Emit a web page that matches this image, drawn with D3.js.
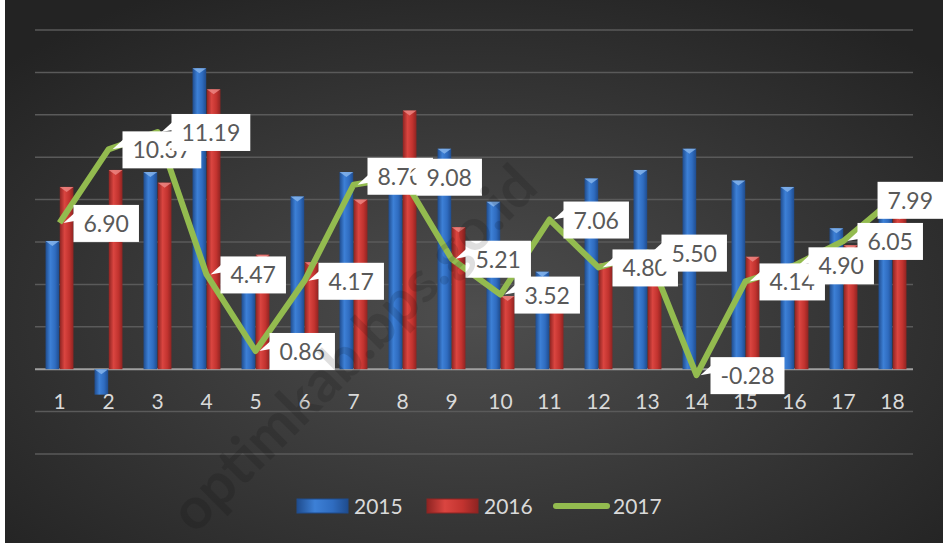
<!DOCTYPE html>
<html>
<head>
<meta charset="utf-8">
<script src="https://cdn.jsdelivr.net/npm/d3@7"></script>
<style>
    body { margin: 0; background: #fff; }
    text { font-family: Lato, "Open Sans", sans-serif; }
</style>
</head>
<body>
<div id="chart"></div>
<script>
'use strict';

// data
var categories = ["1","2","3","4","5","6","7","8","9","10","11","12","13","14","15","16","17","18"];
var seriesNames = ["2015", "2016", "2017"];
var values2015 = [6.05, -1.2, 9.3, 14.2, 4.2, 8.15, 9.3, 9.0, 10.4, 7.9, 4.6, 9.0, 9.4, 10.4, 8.9, 8.6, 6.65, 7.5];
var values2016 = [8.6, 9.4, 8.8, 13.2, 5.4, 5.05, 8.0, 12.2, 6.7, 3.45, 3.3, 5.0, 4.5, 0, 5.3, 4.2, 5.85, 7.3];
var values2017 = [6.90, 10.37, 11.19, 4.47, 0.86, 4.17, 8.70, 9.08, 5.21, 3.52, 7.06, 4.80, 5.50, -0.28, 4.14, 4.90, 6.05, 7.99];
var yTicks = [-4, -2, 0, 2, 4, 6, 8, 10, 12, 14, 16];

// constants
var width = 949,
    height = 543,
    plot = {left: 35, right: 917, top: 30, bottom: 454},
    green = "#93bb4f";

var svg = d3.select("#chart").append("svg")
    .attr("width", width)
    .attr("height", height);

var defs = svg.append("defs");

var bg = defs.append("radialGradient").attr("id", "bg")
    .attr("cx", "50%").attr("cy", "58%").attr("r", "68%");
bg.append("stop").attr("offset", "0%").attr("stop-color", "#4e4e4e");
bg.append("stop").attr("offset", "100%").attr("stop-color", "#232323");

function barGradient(id, dark, mid, light) {
    var g = defs.append("linearGradient").attr("id", id)
        .attr("x1", "0%").attr("x2", "100%").attr("y1", "0%").attr("y2", "0%");
    g.append("stop").attr("offset", "0%").attr("stop-color", dark);
    g.append("stop").attr("offset", "35%").attr("stop-color", light);
    g.append("stop").attr("offset", "70%").attr("stop-color", mid);
    g.append("stop").attr("offset", "100%").attr("stop-color", dark);
}
barGradient("blue", "#1f4c8e", "#2f6cc0", "#3d80d6");
barGradient("red", "#8e2422", "#c2332f", "#da4540");

var fills = {"2015": "url(#blue)", "2016": "url(#red)"};
var caps = {"2015": "#8ab8ee", "2016": "#ee8a86"};

svg.append("rect")
    .attr("x", 5).attr("y", 0)
    .attr("width", 938).attr("height", height)
    .attr("fill", "url(#bg)");

var x = d3.scaleBand()
    .domain(categories)
    .range([plot.left, plot.right])
    .paddingInner(0.43)
    .paddingOuter(0.215);

var xSeries = d3.scaleBand()
    .domain(["2015", "2016"])
    .range([0, x.bandwidth()])
    .paddingInner(0.04);

var y = d3.scaleLinear()
    .domain([-4, 16])
    .range([plot.bottom, plot.top]);

// gridlines
svg.append("g").selectAll("line")
    .data(yTicks)
    .join("line")
    .attr("x1", plot.left).attr("x2", 913)
    .attr("y1", function(d) { return y(d); })
    .attr("y2", function(d) { return y(d); })
    .attr("stroke", function(d) { return d === 0 ? "#a0a0a0" : "#5a5a5a"; })
    .attr("stroke-width", function(d) { return d === 0 ? 2 : 1.5; });

// bars
var barData = [];
categories.forEach(function(c, i) {
    barData.push({cat: c, key: "2015", v: values2015[i]});
    barData.push({cat: c, key: "2016", v: values2016[i]});
});

var bars = svg.append("g").selectAll("g")
    .data(barData.filter(function(d) { return d.v !== 0; }))
    .join("g");

bars.append("rect")
    .attr("x", function(d) { return x(d.cat) + xSeries(d.key); })
    .attr("y", function(d) { return y(Math.max(0, d.v)); })
    .attr("width", xSeries.bandwidth())
    .attr("height", function(d) { return Math.abs(y(d.v) - y(0)); })
    .attr("fill", function(d) { return fills[d.key]; });

// little bevel on top of each bar
bars.append("path")
    .attr("d", function(d) {
        var x0 = x(d.cat) + xSeries(d.key),
            w = xSeries.bandwidth(),
            top = y(Math.max(0, d.v));
        return "M" + x0 + "," + top + "L" + (x0 + w) + "," + top + "L" + (x0 + w / 2) + "," + (top + 5) + "Z";
    })
    .attr("fill", function(d) { return caps[d.key]; })
    .attr("opacity", 0.8);

// x axis labels
svg.append("g").selectAll("text")
    .data(categories)
    .join("text")
    .attr("x", function(d) { return x(d) + x.bandwidth() / 2; })
    .attr("y", 409)
    .attr("text-anchor", "middle")
    .attr("font-size", 21)
    .attr("fill", "#d9d9d9")
    .text(function(d) { return d; });

// 2017 line
var line = d3.line()
    .x(function(d, i) { return x(categories[i]) + x.bandwidth() / 2; })
    .y(function(d) { return y(d); });

svg.append("path")
    .datum(values2017)
    .attr("d", line)
    .attr("fill", "none")
    .attr("stroke", green)
    .attr("stroke-width", 6)
    .attr("stroke-linejoin", "round");

// callout labels, nudged where Excel moved them
var labelNudge = {6: -9};
var labels = svg.append("g");
values2017.forEach(function(v, i) {
    var px = x(categories[i]) + x.bandwidth() / 2,
        py = y(v),
        txt = v.toFixed(2),
        g = labels.append("g");

    var t = g.append("text")
        .attr("font-size", 23)
        .attr("fill", "#595959")
        .text(txt);
    var bw = t.node().getComputedTextLength() + 20,
        bh = 37,
        left = Math.min(px + 14, 943 - bw),
        top = py - 18 + (labelNudge[i] || 0);

    if (left > px) {
        var y1 = Math.max(top + 3, Math.min(py - 10, top + bh - 14));
        g.insert("path", "text")
            .attr("d", "M" + (px + 4) + "," + py + "L" + (left + 1) + "," + y1 + "L" + (left + 1) + "," + (y1 + 8) + "Z")
            .attr("fill", "#fff");
    }
    g.insert("rect", "text")
        .attr("x", left).attr("y", top)
        .attr("width", bw).attr("height", bh)
        .attr("fill", "#fff");
    t.attr("x", left + 10).attr("y", top + 27);
});

// legend
var legend = svg.append("g");
legend.append("rect").attr("x", 297).attr("y", 499).attr("width", 51).attr("height", 14)
    .attr("fill", "url(#blue)").attr("stroke", "#1f4c8e");
legend.append("rect").attr("x", 427).attr("y", 499).attr("width", 51).attr("height", 14)
    .attr("fill", "url(#red)").attr("stroke", "#8e2422");
legend.append("line").attr("x1", 556).attr("x2", 607).attr("y1", 506).attr("y2", 506)
    .attr("stroke", green).attr("stroke-width", 6).attr("stroke-linecap", "round");
legend.selectAll("text")
    .data(seriesNames)
    .join("text")
    .attr("x", function(d, i) { return [354, 484, 613][i]; })
    .attr("y", 514)
    .attr("font-size", 21)
    .attr("fill", "#d9d9d9")
    .text(function(d) { return d; });

// faint watermark across the plot
svg.append("text")
    .attr("transform", "translate(357,352) rotate(-45)")
    .attr("text-anchor", "middle")
    .attr("dominant-baseline", "middle")
    .attr("font-size", 58)
    .attr("font-weight", "bold")
    .attr("fill", "#000")
    .attr("opacity", 0.12)
    .text("optimkab.bps.go.id");
</script>
</body>
</html>
